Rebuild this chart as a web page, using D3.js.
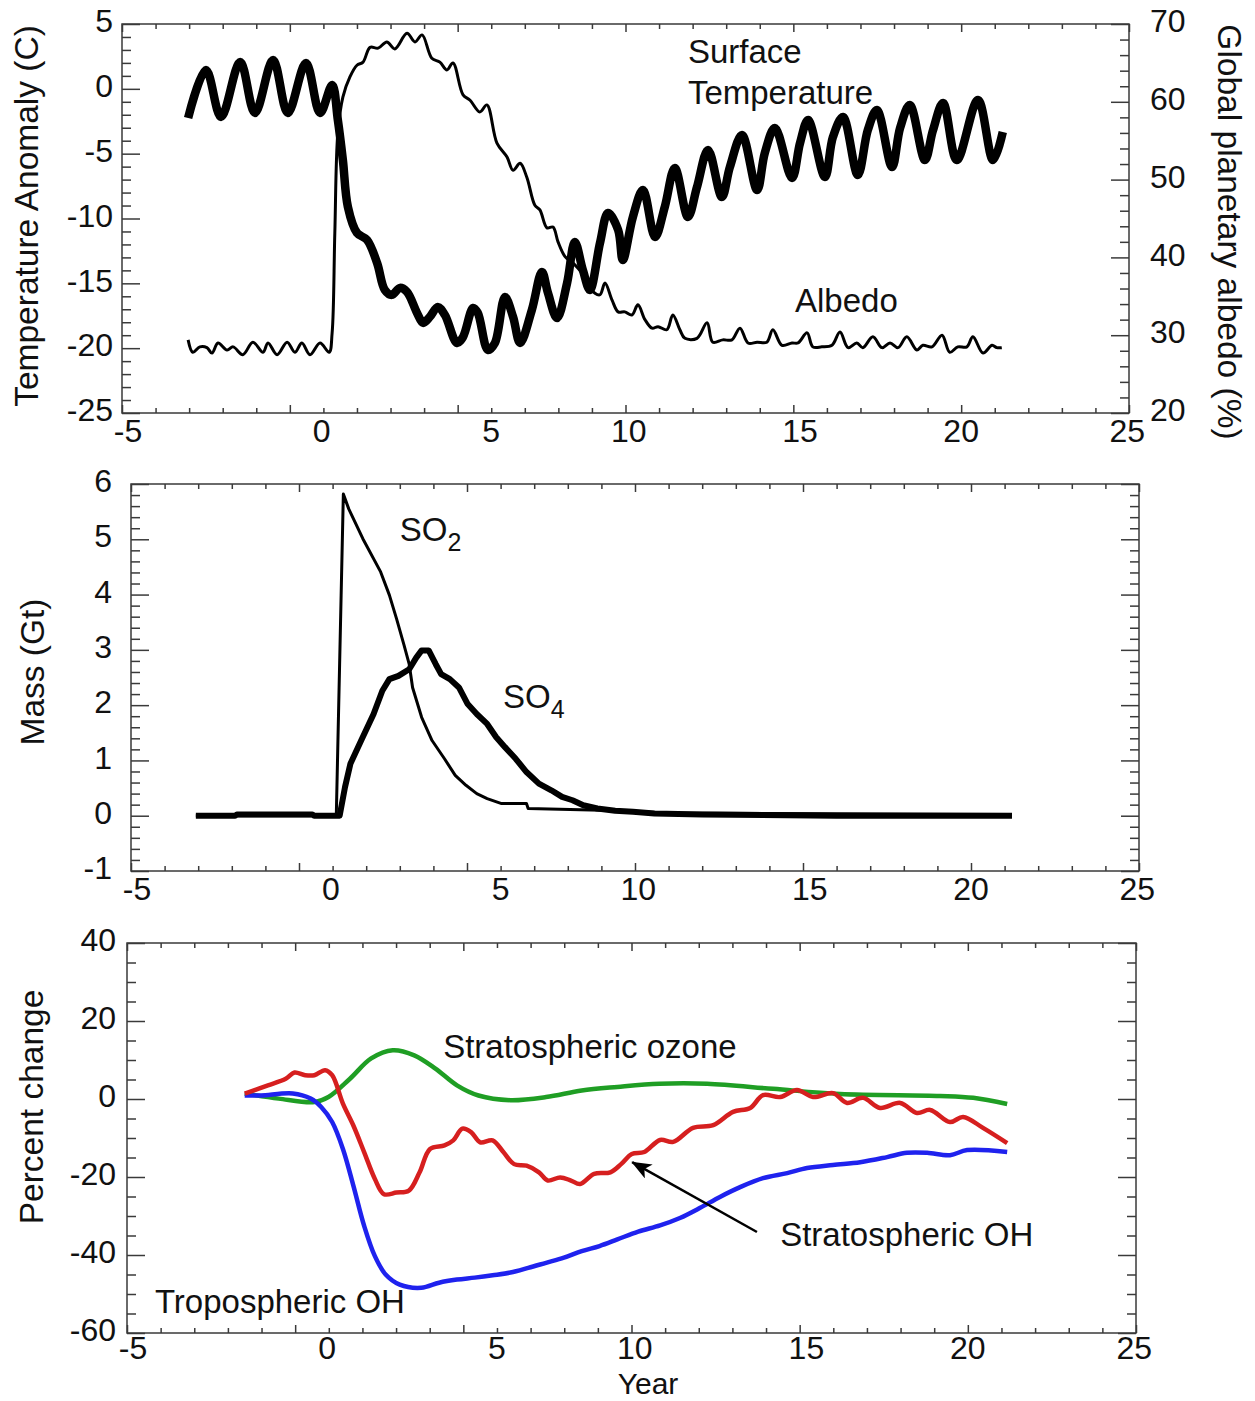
<!DOCTYPE html>
<meta charset="utf-8">
<title>Eruption response: temperature, albedo, sulfur and OH</title>
<body style="margin:0;background:#fff">
<svg width=1255 height=1401></svg>
<script src="https://d3js.org/d3.v7.min.js"></script>
<script>
// ---- data (x in years, tick-mark scale) ----
const xTickLabels = ["-5", "0", "5", "10", "15", "20", "25"];
// where each year label sits along the axis (the figure's labels are not all under their ticks)
const xLabelAt = [-4.82, 0.95, 6.0, 10.1, 15.2, 20.0, 24.95];

const temperature = [[-3.03,-2.25],[-2.50,1.45],[-2.05,-2.17],[-1.48,2.07],[-1.04,-1.86],[-0.50,2.22],[-0.06,-1.86],[0.48,1.99],[0.90,-1.86],[1.26,0.30],[1.43,-2.40],[1.58,-5.49],[1.73,-9.11],[2.00,-11.11],[2.30,-11.65],[2.60,-13.43],[2.83,-15.51],[3.04,-15.89],[3.28,-15.35],[3.49,-15.66],[3.79,-17.28],[3.97,-18.05],[4.17,-17.59],[4.41,-16.82],[4.62,-17.44],[4.98,-19.60],[5.16,-19.13],[5.46,-16.90],[5.60,-17.28],[5.90,-20.14],[6.11,-19.60],[6.41,-16.05],[6.65,-17.59],[6.86,-19.60],[7.21,-17.05],[7.51,-14.12],[7.69,-15.74],[7.96,-17.67],[8.26,-14.97],[8.49,-11.81],[8.73,-13.97],[8.94,-15.51],[9.24,-11.89],[9.48,-9.57],[9.78,-10.88],[9.92,-13.20],[10.22,-9.88],[10.52,-7.80],[10.88,-11.42],[11.17,-9.11],[11.47,-6.10],[11.86,-9.88],[12.13,-7.57],[12.46,-4.71],[12.87,-8.34],[13.11,-6.03],[13.47,-3.56],[13.92,-7.80],[14.15,-4.95],[14.45,-3.02],[14.96,-6.87],[15.20,-4.18],[15.44,-2.40],[15.94,-6.80],[16.18,-3.71],[16.48,-2.17],[16.92,-6.64],[17.22,-3.17],[17.49,-1.63],[17.94,-6.03],[18.18,-3.02],[18.47,-1.25],[18.92,-5.49],[19.16,-3.20],[19.46,-1.09],[19.87,-5.49],[20.50,-0.86],[20.95,-5.49],[21.24,-3.33]];

const albedo = [[-3.03,29.4],[-2.89,27.8],[-2.68,28.5],[-2.47,28.4],[-2.32,27.7],[-2.14,29.0],[-1.87,28.1],[-1.69,28.5],[-1.40,27.5],[-1.10,29.1],[-0.80,27.8],[-0.65,29.0],[-0.38,27.5],[-0.08,29.1],[0.15,27.8],[0.36,29.0],[0.60,27.5],[0.90,29.0],[1.17,27.8],[1.26,30.3],[1.34,43.1],[1.43,56.0],[1.58,60.6],[1.79,63.2],[2.00,64.7],[2.18,65.1],[2.39,67.0],[2.63,66.9],[2.89,67.7],[3.13,66.8],[3.49,68.8],[3.73,67.7],[3.94,68.6],[4.23,65.6],[4.47,65.1],[4.68,64.1],[4.86,65.0],[5.16,60.9],[5.37,60.2],[5.66,58.7],[5.87,59.6],[6.17,54.7],[6.47,52.9],[6.65,51.2],[6.86,52.1],[7.06,50.3],[7.30,46.7],[7.45,46.1],[7.66,43.8],[7.84,43.9],[7.99,42.0],[8.20,40.1],[8.43,39.3],[8.70,38.0],[8.85,36.7],[9.09,35.4],[9.24,35.2],[9.39,36.7],[9.60,34.5],[9.78,33.0],[9.98,33.0],[10.19,32.6],[10.37,33.9],[10.58,32.0],[10.79,30.9],[10.97,31.1],[11.23,30.7],[11.41,32.6],[11.62,30.7],[11.77,29.6],[12.13,29.6],[12.43,31.6],[12.60,29.1],[12.90,29.4],[13.17,29.4],[13.41,30.9],[13.65,29.0],[13.92,29.1],[14.21,29.1],[14.39,30.7],[14.66,28.7],[14.96,29.0],[15.14,29.0],[15.41,30.3],[15.58,28.5],[15.85,28.5],[16.15,28.7],[16.39,30.4],[16.63,28.4],[16.89,29.0],[17.07,28.4],[17.37,29.8],[17.64,28.4],[17.88,29.0],[18.12,28.4],[18.38,29.8],[18.68,28.1],[18.86,28.7],[19.13,28.5],[19.43,30.0],[19.66,27.8],[19.90,28.5],[20.17,28.5],[20.35,29.8],[20.65,27.7],[20.92,28.7],[21.06,28.4],[21.21,28.4]];

const so2 = [[-3.07,0.0],[1.11,0.0],[1.32,5.82],[1.48,5.55],[1.90,5.01],[2.43,4.41],[2.69,3.99],[2.90,3.57],[3.12,3.10],[3.28,2.74],[3.38,2.32],[3.65,1.78],[3.96,1.36],[4.33,1.03],[4.65,0.73],[4.97,0.55],[5.29,0.40],[5.60,0.31],[6.03,0.22],[6.77,0.22],[6.82,0.13],[9.0,0.10],[11.0,0.05],[21.22,0.02]];

const so4 = [[-3.07,0.0],[-1.9,0.0],[-1.85,0.02],[0.4,0.02],[0.45,0.0],[1.21,0.0],[1.37,0.52],[1.53,0.94],[1.85,1.36],[2.22,1.84],[2.48,2.26],[2.69,2.47],[2.96,2.53],[3.28,2.65],[3.49,2.86],[3.65,2.99],[3.86,2.99],[4.07,2.74],[4.23,2.56],[4.49,2.47],[4.76,2.32],[5.02,2.02],[5.29,1.84],[5.60,1.66],[5.87,1.42],[6.13,1.24],[6.45,1.03],[6.77,0.79],[7.14,0.58],[7.51,0.46],[7.83,0.34],[8.14,0.28],[8.46,0.19],[8.88,0.13],[9.41,0.09],[9.94,0.07],[10.58,0.04],[12.0,0.02],[16.0,0.0],[21.22,0.0]];

const stratOzone = [[-1.50,1.4],[-0.49,0.1],[0.57,-0.8],[0.99,0.5],[1.63,5.2],[2.26,10.4],[2.90,12.5],[3.54,11.2],[4.17,7.8],[4.81,3.5],[5.45,0.9],[6.40,-0.3],[7.46,0.5],[8.52,2.2],[9.58,3.1],[10.83,3.9],[12.25,3.9],[14.21,2.6],[16.2,1.3],[19.17,0.8],[20.16,0.3],[21.17,-1.3]];

const stratOH = [[-1.50,1.4],[-0.81,3.5],[-0.28,5.2],[-0.02,6.8],[0.30,6.1],[0.57,6.1],[0.89,7.4],[1.10,6.1],[1.42,-1.2],[1.73,-6.8],[2.05,-13.6],[2.37,-20.5],[2.64,-24.4],[3.01,-24.0],[3.38,-23.5],[3.70,-18.8],[4.01,-12.8],[4.44,-11.9],[4.70,-10.6],[4.97,-7.6],[5.23,-8.5],[5.50,-11.1],[5.87,-10.6],[6.19,-13.6],[6.51,-16.7],[6.88,-17.1],[7.25,-18.8],[7.51,-20.9],[7.88,-20.1],[8.20,-20.9],[8.47,-21.8],[8.89,-19.2],[9.37,-18.8],[9.69,-16.7],[10.01,-14.1],[10.38,-13.6],[10.85,-10.5],[11.24,-11.0],[11.83,-7.4],[12.43,-6.7],[13.02,-3.3],[13.53,-2.3],[13.91,1.0],[14.42,0.5],[14.92,2.3],[15.40,0.5],[15.99,1.5],[16.41,-1.0],[16.88,0.3],[17.39,-2.3],[17.99,-1.0],[18.49,-3.6],[18.88,-2.8],[19.47,-5.9],[19.86,-4.6],[20.45,-7.4],[21.17,-11.3]];

const tropOH = [[-1.50,0.9],[-1.02,0.9],[-0.07,1.4],[0.46,0.1],[0.78,-2.1],[1.10,-5.9],[1.42,-12.8],[1.73,-22.2],[2.05,-32.5],[2.37,-40.3],[2.69,-45.0],[3.11,-47.6],[3.75,-48.4],[4.28,-47.1],[4.81,-46.3],[5.34,-45.8],[5.87,-45.2],[6.40,-44.5],[6.93,-43.3],[7.46,-42.0],[7.99,-40.7],[8.52,-39.0],[9.05,-37.7],[9.58,-36.0],[10.2,-34.0],[10.85,-32.4],[11.44,-30.5],[12.04,-27.9],[12.63,-25.1],[13.23,-22.6],[13.91,-20.3],[14.63,-19.0],[15.22,-17.7],[15.99,-16.9],[16.80,-16.2],[17.60,-14.9],[18.19,-13.8],[18.79,-13.8],[19.47,-14.4],[19.98,-13.1],[21.17,-13.6]];

// arrow pointing at the stratospheric OH curve: [tail, head]
const ohArrow = [[13.73,-34.1],[10.02,-16.2]];

// ---- drawing ----
const svg = d3.select('svg');
const font = 'Liberation Sans, Arial, Helvetica, sans-serif';
const axisColor = '#3a3a3a';
const xMajor = d3.range(-5, 26, 5);
const xMinor = d3.range(-5, 26).filter(v => v % 5 !== 0);

svg.append('rect').attr('width', 1255).attr('height', 1401).attr('fill', '#fff');

function tickAxis(g, axis, values, size, tx, ty) {
    g.append('g').attr('transform', `translate(${tx},${ty})`)
        .call(axis.tickValues(values).tickSize(size).tickSizeOuter(0).tickFormat(''))
        .call(a => a.select('.domain').remove())
        .selectAll('line').attr('stroke', axisColor).attr('stroke-width', 1.5);
}

function labelAxis(g, axis, values, pad, tx, anchorDy) {
    g.append('g').attr('transform', `translate(${tx},0)`)
        .call(axis.tickValues(values).tickSize(0).tickPadding(pad).tickFormat(d => String(d)))
        .call(a => a.select('.domain').remove())
        .selectAll('text')
        .attr('font-family', font).attr('font-size', 32).attr('fill', '#111')
        .attr('dy', anchorDy);
}

function panel(cfg) {
    const x = d3.scaleLinear().domain([-5, 25]).range([cfg.left, cfg.right]);
    const y = d3.scaleLinear().domain(cfg.yDomain).range([cfg.bottom, cfg.top]);
    const g = svg.append('g');

    g.append('rect')
        .attr('x', cfg.left).attr('y', cfg.top)
        .attr('width', cfg.right - cfg.left).attr('height', cfg.bottom - cfg.top)
        .attr('fill', 'none').attr('stroke', axisColor).attr('stroke-width', 1.5);

    // year ticks, top and bottom, pointing inward
    tickAxis(g, d3.axisBottom(x), xMajor, -8, 0, cfg.bottom);
    tickAxis(g, d3.axisBottom(x), xMinor, -5, 0, cfg.bottom);
    tickAxis(g, d3.axisTop(x), xMajor, -8, 0, cfg.top);
    tickAxis(g, d3.axisTop(x), xMinor, -5, 0, cfg.top);

    // left ticks
    tickAxis(g, d3.axisLeft(y), cfg.yMajor, -18, cfg.left, 0);
    tickAxis(g, d3.axisLeft(y), cfg.yMinor, -9, cfg.left, 0);
    if (cfg.mirror) {
        tickAxis(g, d3.axisRight(y), cfg.yMajor, -18, cfg.right, 0);
        tickAxis(g, d3.axisRight(y), cfg.yMinor, -9, cfg.right, 0);
    }

    labelAxis(g, d3.axisLeft(y), cfg.yMajor, cfg.pad, cfg.left, '0.24em');

    xTickLabels.forEach((t, i) => {
        g.append('text')
            .attr('x', x(xLabelAt[i])).attr('y', cfg.bottom + (cfg.xGap || 29))
            .attr('text-anchor', 'middle')
            .attr('font-family', font).attr('font-size', 32).attr('fill', '#111')
            .text(t);
    });

    g.append('text')
        .attr('transform', `translate(${cfg.titleX},${cfg.titleY}) rotate(-90)`)
        .attr('text-anchor', 'middle')
        .attr('font-family', font).attr('font-size', 33.5).attr('fill', '#111')
        .text(cfg.title);

    return { g, x, y };
}

function note(g, x, y, t, size) {
    return g.append('text').attr('x', x).attr('y', y)
        .attr('font-family', font).attr('font-size', size || 33).attr('fill', '#111')
        .text(t);
}

// ---- panel 1: temperature and albedo ----
const p1 = panel({
    left: 122, right: 1129, top: 24, bottom: 413,
    yDomain: [-25, 5], yMajor: d3.range(-25, 6, 5),
    yMinor: d3.range(-25, 6).filter(v => v % 5 !== 0),
    pad: 9, mirror: false,
    title: 'Temperature Anomaly (C)', titleX: 38, titleY: 216
});
const yAlb = d3.scaleLinear().domain([20, 70]).range([413, 24]);
tickAxis(p1.g, d3.axisRight(yAlb), d3.range(20, 71, 10), -18, 1129, 0);
tickAxis(p1.g, d3.axisRight(yAlb), d3.range(20, 71, 2).filter(v => v % 10 !== 0), -9, 1129, 0);
labelAxis(p1.g, d3.axisRight(yAlb), d3.range(20, 71, 10), 21, 1129, '0.24em');
p1.g.append('text')
    .attr('transform', 'translate(1218,232) rotate(90)')
    .attr('text-anchor', 'middle')
    .attr('font-family', font).attr('font-size', 33.5).attr('fill', '#111')
    .text('Global planetary albedo (%)');

p1.g.append('path').datum(albedo)
    .attr('d', d3.line().x(d => p1.x(d[0])).y(d => yAlb(d[1])).curve(d3.curveCatmullRom))
    .attr('fill', 'none').attr('stroke', '#000').attr('stroke-width', 3)
    .attr('stroke-linejoin', 'round');
p1.g.append('path').datum(temperature)
    .attr('d', d3.line().x(d => p1.x(d[0])).y(d => p1.y(d[1])).curve(d3.curveCatmullRom))
    .attr('fill', 'none').attr('stroke', '#000').attr('stroke-width', 8.5)
    .attr('stroke-linejoin', 'round').attr('stroke-linecap', 'butt');

note(p1.g, p1.x(11.86), p1.y(2.0), 'Surface');
note(p1.g, p1.x(11.86), p1.y(-1.17), 'Temperature');
note(p1.g, p1.x(15.05), yAlb(32.98), 'Albedo');

// ---- panel 2: SO2 and SO4 mass ----
const p2 = panel({
    left: 131, right: 1139, top: 484, bottom: 871,
    yDomain: [-1, 6], yMajor: d3.range(-1, 7),
    yMinor: d3.range(-5, 31).filter(i => i % 5 !== 0).map(i => i / 5),
    pad: 19, mirror: true,
    title: 'Mass (Gt)', titleX: 44, titleY: 672
});
p2.g.append('path').datum(so4)
    .attr('d', d3.line().x(d => p2.x(d[0])).y(d => p2.y(d[1])))
    .attr('fill', 'none').attr('stroke', '#000').attr('stroke-width', 6)
    .attr('stroke-linejoin', 'round');
p2.g.append('path').datum(so2)
    .attr('d', d3.line().x(d => p2.x(d[0])).y(d => p2.y(d[1])))
    .attr('fill', 'none').attr('stroke', '#000').attr('stroke-width', 3)
    .attr('stroke-linejoin', 'round');

const so2Label = note(p2.g, p2.x(3.0), p2.y(4.97), 'SO');
so2Label.append('tspan').attr('font-size', 25).attr('dy', 10).text('2');
const so4Label = note(p2.g, p2.x(6.07), p2.y(1.95), 'SO');
so4Label.append('tspan').attr('font-size', 25).attr('dy', 10).text('4');

// ---- panel 3: percent change ----
const p3 = panel({
    left: 127, right: 1136, top: 943, bottom: 1333,
    yDomain: [-60, 40], yMajor: d3.range(-60, 41, 20),
    yMinor: d3.range(-60, 41, 5).filter(v => v % 20 !== 0),
    pad: 11, mirror: true, xGap: 26,
    title: 'Percent change', titleX: 43, titleY: 1107
});
const line3 = d3.line().x(d => p3.x(d[0])).y(d => p3.y(d[1])).curve(d3.curveCatmullRom);
[[stratOzone, '#1f9e24'], [tropOH, '#1f22ee'], [stratOH, '#d61f1f']].forEach(([data, color]) => {
    p3.g.append('path').datum(data)
        .attr('d', line3)
        .attr('fill', 'none').attr('stroke', color).attr('stroke-width', 4.5)
        .attr('stroke-linejoin', 'round');
});

svg.append('defs').append('marker')
    .attr('id', 'head').attr('viewBox', '0 0 20 16')
    .attr('refX', 19).attr('refY', 8)
    .attr('markerWidth', 20).attr('markerHeight', 16)
    .attr('markerUnits', 'userSpaceOnUse').attr('orient', 'auto')
    .append('path').attr('d', 'M0,0 L20,8 L0,16 L5,8 Z').attr('fill', '#000');
p3.g.append('line')
    .attr('x1', p3.x(ohArrow[0][0])).attr('y1', p3.y(ohArrow[0][1]))
    .attr('x2', p3.x(ohArrow[1][0])).attr('y2', p3.y(ohArrow[1][1]))
    .attr('stroke', '#000').attr('stroke-width', 2.5)
    .attr('marker-end', 'url(#head)');

note(p3.g, p3.x(4.40), p3.y(10.5), 'Stratospheric ozone');
note(p3.g, p3.x(14.42), p3.y(-37.7), 'Stratospheric OH');
note(p3.g, p3.x(-4.17), p3.y(-54.9), 'Tropospheric OH');

svg.append('text')
    .attr('x', 648).attr('y', 1394).attr('text-anchor', 'middle')
    .attr('font-family', font).attr('font-size', 30).attr('fill', '#111')
    .text('Year');
</script>
